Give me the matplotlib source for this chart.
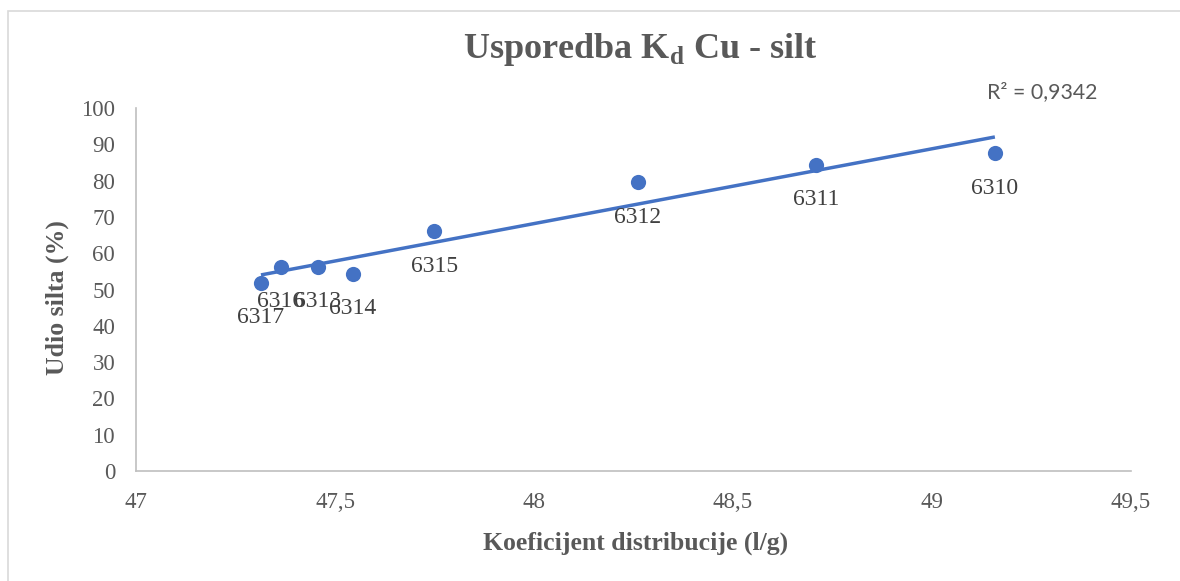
import numpy as np
import matplotlib
matplotlib.use("Agg")
import matplotlib.pyplot as plt
from matplotlib.patches import Rectangle

# ---- data ----
samples = ["6310", "6311", "6312", "6313", "6314", "6315", "6316", "6317"]
kd = [49.158, 48.709, 48.261, 47.457, 47.545, 47.749, 47.364, 47.314]
silt = [87.6, 84.3, 79.6, 56.2, 54.3, 66.1, 56.2, 51.8]
x_ticks = [47, 47.5, 48, 48.5, 49, 49.5]
x_tick_labels = ["47", "47,5", "48", "48,5", "49", "49,5"]
y_ticks = [0, 10, 20, 30, 40, 50, 60, 70, 80, 90, 100]
r2_text = "R² = 0,9342"

plt.rcParams["font.family"] = ["Liberation Serif", "DejaVu Serif"]
plt.rcParams["mathtext.fontset"] = "custom"
plt.rcParams["mathtext.rm"] = "Liberation Serif"
plt.rcParams["mathtext.bf"] = "Liberation Serif:bold"

grey = "#595959"
blue = "#4472C4"

fig = plt.figure(figsize=(11.8, 5.81), dpi=100)
W, H = 1180, 581
ax = fig.add_axes([136 / W, 1 - 471 / H, (1131 - 136) / W, (471 - 108) / H])

# outer chart border
fig.patches.append(Rectangle((8 / W, -0.05), 1.2, 1 - 11 / H + 0.05,
                             transform=fig.transFigure, fill=False,
                             edgecolor="#d9d9d9", linewidth=1.2, zorder=0))

# trendline
coef = np.polyfit(kd, silt, 1)
xs = np.array([min(kd), max(kd)])
ax.plot(xs, np.polyval(coef, xs), color=blue, linewidth=2.5, zorder=2,
        solid_capstyle="butt")

# points
ax.scatter(kd, silt, s=120, color=blue, zorder=3, linewidths=0)

for s, x, y in zip(samples, kd, silt):
    ax.annotate(s, (x, y), xytext=(0, -35), textcoords="offset pixels",
                ha="center", va="center", fontsize=17, color="#404040")

ax.set_xlim(47, 49.5)
ax.set_ylim(0, 100)
ax.set_xticks(x_ticks)
ax.set_xticklabels(x_tick_labels)
ax.set_yticks(y_ticks)
ax.tick_params(axis="both", length=0, labelsize=16.5, labelcolor=grey)
ax.tick_params(axis="y", pad=15)
ax.tick_params(axis="x", pad=15)

for side in ["top", "right"]:
    ax.spines[side].set_visible(False)
for side in ["left", "bottom"]:
    ax.spines[side].set_color("#bfbfbf")
    ax.spines[side].set_linewidth(1.2)

ax.set_xlabel("Koeficijent distribucije (l/g)", fontsize=18.5,
              fontweight="bold", color=grey)
ax.set_ylabel("Udio silta (%)", fontsize=18.5, fontweight="bold", color=grey)
ax.xaxis.label.set_va("center")
ax.yaxis.label.set_va("center")
ax.xaxis.set_label_coords((636 - 136) / (1131 - 136), (471 - 543) / (471 - 108))
ax.yaxis.set_label_coords((57 - 136) / (1131 - 136), (471 - 298) / (471 - 108))

fig.text(640 / W, 1 - 58 / H, r"Usporedba K$_{\mathbf{d}}$ Cu - silt",
         ha="center", va="baseline", fontsize=26, fontweight="bold", color=grey)

fig.text(1042 / W, 1 - 92 / H, r2_text, ha="center", va="center",
         fontsize=15.3, color=grey, family=["Lato", "DejaVu Sans"])

fig.savefig("out.png", dpi=100)
